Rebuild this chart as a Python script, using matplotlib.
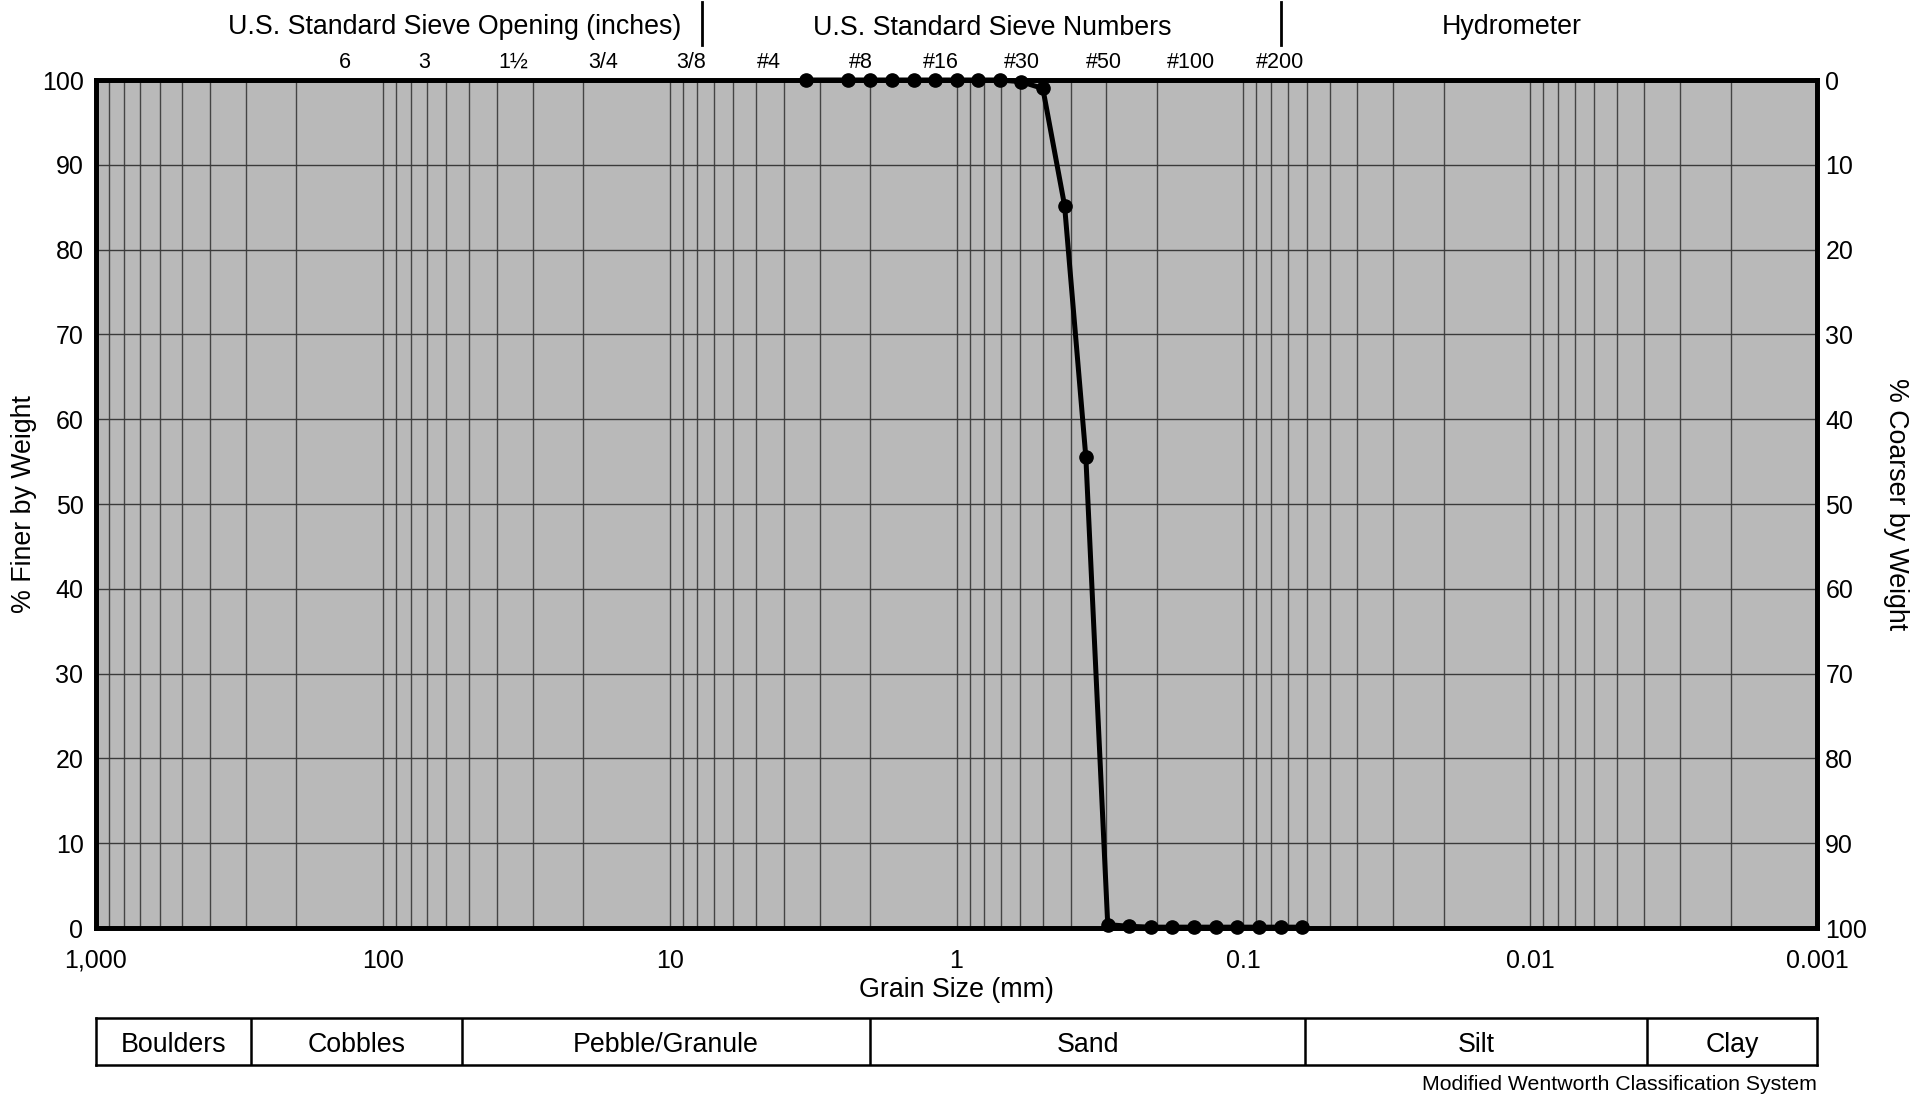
import matplotlib
matplotlib.use("Agg")
import matplotlib.pyplot as plt
import numpy as np
from matplotlib.ticker import FixedLocator, NullFormatter, LogLocator

plt.rcParams['font.family'] = ['Liberation Sans', 'DejaVu Sans']

# ---- data ----
grain_mm = [3.36, 2.38, 2.0, 1.68, 1.41, 1.19, 1.0, 0.841, 0.707, 0.595, 0.5,
            0.42, 0.354, 0.297, 0.25, 0.21, 0.177, 0.149, 0.125, 0.105, 0.088,
            0.074, 0.0625]
pct_finer = [100, 100, 100, 100, 100, 100, 100, 100, 100, 99.8, 99.0,
             85.2, 55.5, 0.4, 0.2, 0.1, 0.1, 0.1, 0.1, 0.1, 0.1, 0.1, 0.1]

x_ticks = [1000, 100, 10, 1, 0.1, 0.01, 0.001]
x_tick_labels = ['1,000', '100', '10', '1', '0.1', '0.01', '0.001']
y_ticks = list(range(0, 101, 10))

sieve_labels = ['6', '3', '1½', '3/4', '3/8', '#4', '#8', '#16', '#30', '#50', '#100', '#200']
sieve_label_mm = [136, 72, 35, 17, 8.4, 4.5, 2.16, 1.13, 0.59, 0.306, 0.152, 0.0745]
header_dividers_mm = [7.7, 0.0739]

classes = ['Boulders', 'Cobbles', 'Pebble/Granule', 'Sand', 'Silt', 'Clay']
class_bounds_mm = [1000, 288, 53, 2.0, 0.061, 0.0039, 0.001]

W, H = 1928, 1097
fig = plt.figure(figsize=(W / 100, H / 100), dpi=100)
fig.patch.set_facecolor('white')

L, R, T, B = 96, 1817, 80, 928
ax = fig.add_axes([L / W, 1 - B / H, (R - L) / W, (B - T) / H])
ax.set_xscale('log')
ax.set_xlim(1000, 0.001)
ax.set_ylim(0, 100)
ax.set_facecolor('#b9b9b9')
ax.set_xticks(x_ticks, x_tick_labels)
ax.xaxis.set_minor_locator(LogLocator(base=10, subs=np.arange(2, 10), numticks=100))
ax.xaxis.set_minor_formatter(NullFormatter())
ax.set_yticks(y_ticks)
ax.grid(True, which='both', axis='x', color='#444444', lw=1.0)
ax.grid(True, which='major', axis='y', color='#3a3a3a', lw=1.0)
ax.set_axisbelow(True)
ax.tick_params(which='both', length=0, labelsize=18, pad=9)
ax.tick_params(axis='x', pad=15)
for s in ax.spines.values():
    s.set_linewidth(3.4)

ax.plot(grain_mm, pct_finer, color='black', lw=3.6, marker='o', ms=9.5,
        zorder=5, clip_on=False)

ax.set_xlabel('Grain Size (mm)', fontsize=19.3, labelpad=3)
ax.set_ylabel('% Finer by Weight', fontsize=19.3, labelpad=3)

ax2 = ax.twinx()
ax2.set_ylim(100, 0)
ax2.set_yticks(y_ticks)
ax2.tick_params(length=0, labelsize=18, pad=6)
for s in ax2.spines.values():
    s.set_linewidth(3.4)
ax2.set_ylabel('% Coarser by Weight', fontsize=19.3, rotation=270, labelpad=30)

# sieve labels above the plot
trans = ax.get_xaxis_transform()
for lab, mm in zip(sieve_labels, sieve_label_mm):
    ax.text(mm, 1.021, lab, transform=trans, ha='center', va='center', fontsize=15.5)
for mm in header_dividers_mm:
    ax.plot([mm, mm], [1.041, 1.092], transform=trans, color='black', lw=2, clip_on=False)

fig.text(455 / W, 1 - 27 / H, 'U.S. Standard Sieve Opening (inches)', ha='center', va='center', fontsize=19.3)
fig.text(992 / W, 1 - 28 / H, 'U.S. Standard Sieve Numbers', ha='center', va='center', fontsize=19.3)
fig.text(1512 / W, 1 - 27 / H, 'Hydrometer', ha='center', va='center', fontsize=19.3)

# classification bar
bax = fig.add_axes([L / W, 1 - 1065 / H, (R - L) / W, 47 / H])
bax.set_xscale('log')
bax.set_xlim(1000, 0.001)
bax.set_ylim(0, 1)
bax.set_xticks([])
bax.set_yticks([])
bax.minorticks_off()
for s in bax.spines.values():
    s.set_linewidth(1.8)
for b in class_bounds_mm[1:-1]:
    bax.axvline(b, color='black', lw=1.8)
for i, name in enumerate(classes):
    xc = np.sqrt(class_bounds_mm[i] * class_bounds_mm[i + 1])
    bax.text(xc, 0.42, name, ha='center', va='center', fontsize=19.3)

fig.text(R / W, 1 - 1084 / H, 'Modified Wentworth Classification System',
         ha='right', va='center', fontsize=15.3)

fig.savefig('out.png', dpi=100, facecolor='white')
